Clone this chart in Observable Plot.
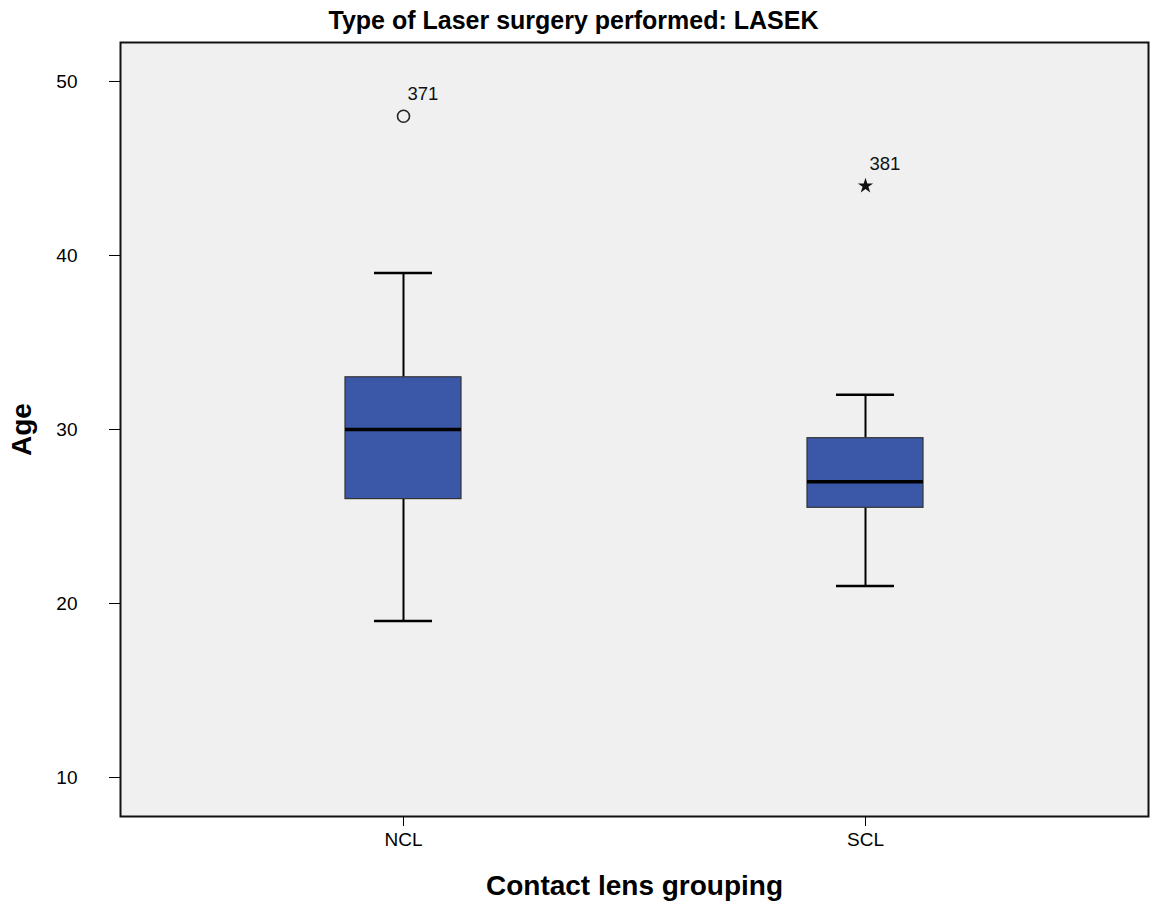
<!DOCTYPE html>
<html>
<head>
<meta charset="utf-8">
<script src="https://cdn.jsdelivr.net/npm/d3@7"></script>
<script src="https://cdn.jsdelivr.net/npm/@observablehq/plot@0.6"></script>
<style>
  html, body { margin: 0; padding: 0; background: #fff; }
  #title { height: 36px; text-align: center; font: bold 25px "Liberation Sans", Arial, sans-serif; line-height: 40px; color: #000; width: 1147px; white-space: nowrap; }
</style>
</head>
<body>
<div id="title">Type of Laser surgery performed: LASEK</div>
<div id="chart"></div>
<script>
const groups = ["NCL", "SCL"];
const whiskerLow = [19, 21];
const q1 = [26, 25.5];
const median = [30, 27];
const q3 = [33, 29.5];
const whiskerHigh = [39, 32];
const outlierGroup = ["NCL", "SCL"];
const outlierAge = [48, 44];
const outlierLabel = ["371", "381"];
const outlierKind = ["circle", "star"];

const boxes = groups.map((g, i) => ({group: g, lo: whiskerLow[i], q1: q1[i], med: median[i], q3: q3[i], hi: whiskerHigh[i]}));
const outliers = outlierGroup.map((g, i) => ({group: g, age: outlierAge[i], label: outlierLabel[i], kind: outlierKind[i]}));

const chart = Plot.plot({
  width: 1157,
  height: 868,
  marginTop: 6,
  marginBottom: 88,
  marginLeft: 120,
  marginRight: 9,
  style: {fontFamily: "'Liberation Sans', Arial, sans-serif", fontSize: "19px", background: "#fff", color: "#000"},
  x: {type: "band", domain: groups, paddingInner: 0.749, paddingOuter: 0.486, label: null},
  y: {domain: [7.76, 52.24], label: null},
  marks: [
    Plot.frame({fill: "#f0f0f0", stroke: "#111", strokeWidth: 2}),
    Plot.ruleX(boxes, {x: "group", y1: "lo", y2: "q1", stroke: "#000", strokeWidth: 2}),
    Plot.ruleX(boxes, {x: "group", y1: "q3", y2: "hi", stroke: "#000", strokeWidth: 2}),
    Plot.tickY(boxes, {x: "group", y: "lo", stroke: "#000", strokeWidth: 2.5, inset: 29}),
    Plot.tickY(boxes, {x: "group", y: "hi", stroke: "#000", strokeWidth: 2.5, inset: 29}),
    Plot.barY(boxes, {x: "group", y1: "q1", y2: "q3", fill: "#3b57a8", stroke: "#333", strokeWidth: 1.2}),
    Plot.tickY(boxes, {x: "group", y: "med", stroke: "#000", strokeWidth: 3.5}),
    Plot.dot(outliers.filter(d => d.kind === "circle"), {x: "group", y: "age", r: 6, stroke: "#222", strokeWidth: 1.6, fill: "none"}),
    Plot.dot(outliers.filter(d => d.kind === "star"), {x: "group", y: "age", symbol: "star", r: 4.8, fill: "#111", stroke: "none"}),
    Plot.text(outliers, {x: "group", y: "age", text: "label", dx: 4, dy: -22, textAnchor: "start", fontSize: 18.5, fill: "#111"}),
    Plot.axisX({label: null, tickSize: 10, tickPadding: 6, fontSize: 19}),
    Plot.axisY({ticks: [10, 20, 30, 40, 50], label: null, tickSize: 11, tickPadding: 32, fontSize: 19}),
    Plot.text(["Contact lens grouping"], {frameAnchor: "bottom", dy: 78, text: d => d, fontSize: 28, fontWeight: "bold"}),
    Plot.text(["Age"], {frameAnchor: "left", dx: -98, rotate: -90, textAnchor: "middle", text: d => d, fontSize: 28, fontWeight: "bold"})
  ]
});
document.getElementById("chart").appendChild(chart);
</script>
</body>
</html>
